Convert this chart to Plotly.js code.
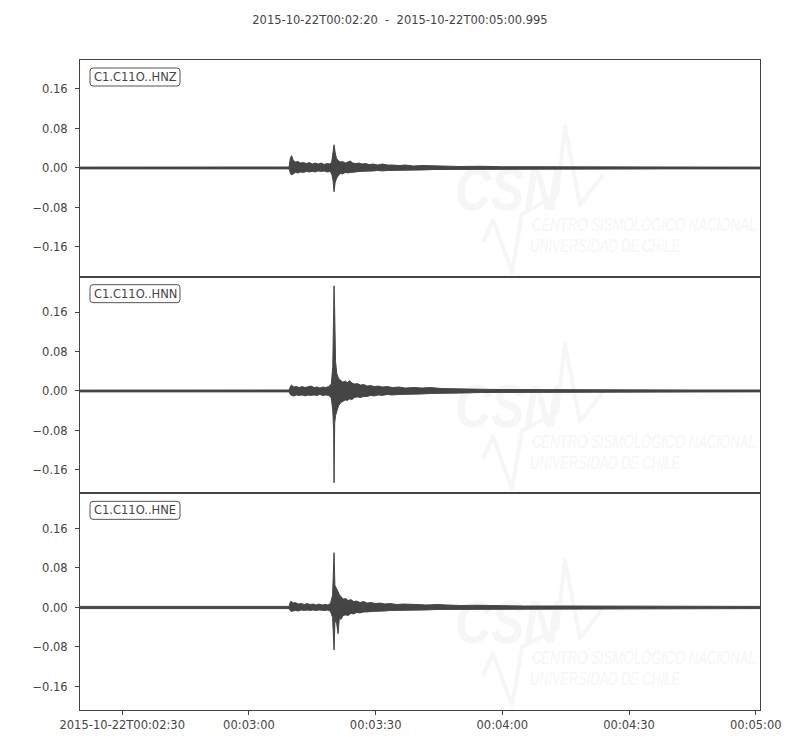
<!DOCTYPE html>
<html>
<head>
<meta charset="utf-8">
<script src="https://cdn.plot.ly/plotly-3.0.1.min.js"></script>
<style>html,body{margin:0;padding:0;background:#fff;}</style>
</head>
<body>
<div id="chart" style="width:800px;height:750px;"></div>
<script>
// ---- Data (seconds after 2015-10-22T00:02:20; upper/lower envelope) ----
const stationLabels = ["C1.C11O..HNZ", "C1.C11O..HNN", "C1.C11O..HNE"];
const plotTitle = "2015-10-22T00:02:20\u00a0\u00a0-\u00a0\u00a02015-10-22T00:05:00.995";

const hnzTime  = [0, 15, 30, 45, 49.5, 49.8, 50.1, 50.5, 51.0, 51.6, 52.2, 52.9, 53.6, 54.3, 55.0, 55.7, 56.4, 57.1, 57.8, 58.5, 59.2, 59.6, 59.9, 60.15, 60.4, 60.7, 61.1, 61.6, 62.2, 62.8, 63.4, 64.0, 64.6, 65.3, 66.0, 66.8, 67.6, 68.5, 69.4, 70.5, 71.6, 72.8, 74, 75.5, 77, 79, 81, 84, 87, 90, 95, 100, 110, 120, 140, 160.995];
const hnzUpper = [0.0018, 0.0022, 0.0018, 0.0020, 0.0020, 0.020, 0.025, 0.015, 0.012, 0.013, 0.010, 0.011, 0.009, 0.011, 0.008, 0.010, 0.008, 0.010, 0.007, 0.009, 0.008, 0.012, 0.030, 0.047, 0.032, 0.020, 0.015, 0.012, 0.013, 0.010, 0.012, 0.014, 0.010, 0.009, 0.010, 0.008, 0.009, 0.007, 0.008, 0.006, 0.008, 0.006, 0.006, 0.005, 0.006, 0.004, 0.005, 0.004, 0.004, 0.003, 0.0035, 0.0025, 0.0025, 0.002, 0.002, 0.0018];
const hnzLower = [-0.0018, -0.0018, -0.0020, -0.0018, -0.0018, -0.010, -0.014, -0.012, -0.009, -0.010, -0.008, -0.009, -0.007, -0.008, -0.007, -0.008, -0.006, -0.007, -0.006, -0.008, -0.007, -0.012, -0.025, -0.048, -0.030, -0.022, -0.016, -0.011, -0.012, -0.009, -0.010, -0.009, -0.008, -0.008, -0.007, -0.007, -0.006, -0.006, -0.006, -0.005, -0.006, -0.005, -0.005, -0.004, -0.004, -0.004, -0.004, -0.003, -0.003, -0.003, -0.0025, -0.0025, -0.002, -0.002, -0.0018, -0.0018];

const hnnTime  = [0, 15, 30, 45, 49.5, 49.86, 50.1, 50.6, 51.2, 51.9, 52.6, 53.3, 54.0, 54.7, 55.4, 56.1, 56.8, 57.5, 58.2, 58.9, 59.5, 59.85, 60.05, 60.15, 60.3, 60.5, 60.8, 61.2, 61.7, 62.2, 62.8, 63.3, 63.8, 64.4, 65.0, 65.7, 66.4, 67.2, 68.0, 68.8, 69.7, 70.6, 71.6, 72.7, 74, 75.5, 77, 79, 81, 83, 85.5, 88, 91, 95, 100, 110, 125, 145, 160.995];
const hnnUpper = [0.0018, 0.002, 0.0018, 0.002, 0.002, 0.010, 0.012, 0.008, 0.009, 0.007, 0.009, 0.007, 0.008, 0.010, 0.007, 0.008, 0.006, 0.008, 0.007, 0.009, 0.014, 0.050, 0.160, 0.213, 0.160, 0.060, 0.035, 0.026, 0.022, 0.018, 0.020, 0.017, 0.021, 0.016, 0.014, 0.015, 0.012, 0.013, 0.010, 0.011, 0.009, 0.010, 0.008, 0.009, 0.007, 0.008, 0.006, 0.007, 0.006, 0.007, 0.005, 0.005, 0.004, 0.0035, 0.003, 0.0025, 0.0022, 0.002, 0.002];
const hnnLower = [-0.0018, -0.0018, -0.002, -0.0018, -0.0018, -0.008, -0.009, -0.010, -0.008, -0.009, -0.008, -0.010, -0.008, -0.009, -0.008, -0.009, -0.007, -0.009, -0.008, -0.009, -0.014, -0.040, -0.080, -0.186, -0.065, -0.050, -0.042, -0.030, -0.024, -0.021, -0.018, -0.019, -0.016, -0.017, -0.013, -0.012, -0.013, -0.011, -0.011, -0.009, -0.010, -0.008, -0.009, -0.007, -0.008, -0.007, -0.007, -0.006, -0.006, -0.005, -0.005, -0.004, -0.004, -0.003, -0.003, -0.0025, -0.002, -0.002, -0.0018];

const hneTime  = [0, 15, 30, 45, 49.5, 49.75, 49.98, 50.4, 51.0, 51.7, 52.4, 53.1, 53.8, 54.5, 55.2, 55.9, 56.6, 57.3, 58.0, 58.7, 59.3, 59.8, 60.0, 60.15, 60.35, 60.7, 61.1, 61.4, 61.8, 62.3, 62.9, 63.5, 64.1, 64.8, 65.5, 66.3, 67.1, 68.0, 68.9, 69.9, 71, 72.2, 73.5, 75, 76.5, 78, 80, 82, 84.5, 87, 90, 94, 98, 105, 115, 130, 145, 160.995];
const hneUpper = [0.0022, 0.0025, 0.002, 0.0025, 0.0022, 0.010, 0.013, 0.009, 0.010, 0.007, 0.008, 0.006, 0.008, 0.006, 0.007, 0.005, 0.007, 0.005, 0.006, 0.005, 0.008, 0.025, 0.080, 0.111, 0.045, 0.040, 0.032, 0.026, 0.022, 0.017, 0.018, 0.014, 0.016, 0.012, 0.013, 0.010, 0.012, 0.009, 0.010, 0.008, 0.009, 0.007, 0.008, 0.006, 0.007, 0.006, 0.006, 0.005, 0.006, 0.005, 0.004, 0.0045, 0.0035, 0.003, 0.003, 0.0028, 0.0025, 0.0022];
const hneLower = [-0.0022, -0.002, -0.0025, -0.0022, -0.0022, -0.006, -0.008, -0.007, -0.006, -0.007, -0.005, -0.006, -0.005, -0.006, -0.005, -0.006, -0.005, -0.005, -0.006, -0.005, -0.008, -0.020, -0.050, -0.086, -0.030, -0.028, -0.053, -0.022, -0.024, -0.016, -0.015, -0.016, -0.012, -0.013, -0.010, -0.011, -0.009, -0.009, -0.008, -0.008, -0.007, -0.007, -0.006, -0.006, -0.005, -0.005, -0.005, -0.005, -0.004, -0.004, -0.004, -0.0035, -0.003, -0.003, -0.0025, -0.0025, -0.0025, -0.0022];

const yTickVals = [-0.16, -0.08, 0, 0.08, 0.16];
const yTickText = ["\u22120.16", "\u22120.08", "0.00", "0.08", "0.16"];
const xTickSec  = [10, 40, 70, 100, 130, 160];
const xTickText = ["2015-10-22T00:02:30", "00:03:00", "00:03:30", "00:04:00", "00:04:30", "00:05:00"];
const startSec = 0, endSec = 160.995;

// ---- helpers ----
const t0 = Date.UTC(2015, 9, 22, 0, 2, 20);
function stamp(s) {
  return new Date(t0 + Math.round(s * 1000)).toISOString().replace('T', ' ').replace('Z', '');
}
function band(times, up, lo, xa, ya) {
  const xs = times.map(stamp);
  return {
    type: 'scatter', mode: 'lines', xaxis: xa, yaxis: ya,
    x: xs.concat(xs.slice().reverse()),
    y: up.concat(lo.slice().reverse()),
    fill: 'toself', fillcolor: '#454545',
    line: {color: '#454545', width: 1},
    hoverinfo: 'skip', showlegend: false
  };
}

const data = [
  band(hnzTime, hnzUpper, hnzLower, 'x', 'y'),
  band(hnnTime, hnnUpper, hnnLower, 'x2', 'y2'),
  band(hneTime, hneUpper, hneLower, 'x3', 'y3')
];

const font = {family: 'DejaVu Sans, sans-serif', size: 11.5, color: '#444'};
const xRange = [stamp(startSec), stamp(endSec)];
function xAxis(anchor, showLabels) {
  return {
    type: 'date', range: xRange, anchor: anchor, domain: [0, 1],
    showgrid: false, zeroline: false,
    showline: true, mirror: true, linecolor: '#444', linewidth: 1,
    ticks: showLabels ? 'outside' : '', ticklen: 4, tickcolor: '#444',
    tickmode: 'array', tickvals: xTickSec.map(stamp), ticktext: xTickText,
    showticklabels: showLabels, tickfont: font
  };
}
function yAxis(anchor, domain, range) {
  return {
    anchor: anchor, domain: domain, range: range,
    showgrid: false, zeroline: false,
    showline: true, mirror: true, linecolor: '#444', linewidth: 1,
    ticks: 'outside', ticklen: 4, tickcolor: '#444',
    tickmode: 'array', tickvals: yTickVals, ticktext: yTickText,
    ticklabelstandoff: 5,
    tickfont: font
  };
}

// faint CSN watermark, drawn beneath the traces
const wmCol = '#f6f6f6';
const wm = '<svg xmlns="http://www.w3.org/2000/svg" width="320" height="160" viewBox="0 0 320 160">' +
  '<g fill="none" stroke="' + wmCol + '" stroke-width="4" stroke-linejoin="round">' +
  '<path d="M33 120 L43 98 L62 150 L72 92 L107 73 L115 5 L130 83 L153 53"/></g>' +
  '<text x="5" y="88" font-family="Liberation Sans" font-weight="bold" font-style="italic" font-size="62" fill="' + wmCol + '" textLength="105" lengthAdjust="spacingAndGlyphs">CSN</text>' +
  '<text x="82" y="109" font-family="Liberation Sans Narrow, Liberation Sans" font-style="italic" font-size="19" fill="' + wmCol + '" textLength="224" lengthAdjust="spacingAndGlyphs">CENTRO SISMOLÓGICO NACIONAL</text>' +
  '<text x="80" y="130" font-family="Liberation Sans Narrow, Liberation Sans" font-style="italic" font-size="19" fill="' + wmCol + '" textLength="150" lengthAdjust="spacingAndGlyphs">UNIVERSIDAD DE CHILE</text>' +
  '</svg>';
const wmSrc = 'data:image/svg+xml;charset=utf-8,' + encodeURIComponent(wm);
const panelTops = [1, 2 / 3, 1 / 3];
const images = panelTops.map(top => ({
  source: wmSrc, xref: 'paper', yref: 'paper',
  x: 370 / 680, y: top - 62 / 650, sizex: 320 / 680, sizey: 160 / 650,
  xanchor: 'left', yanchor: 'top', sizing: 'stretch', layer: 'below'
}));

const annotations = stationLabels.map((lab, i) => ({
  text: lab, xref: 'paper', yref: 'paper', x: 0, y: panelTops[i],
  xanchor: 'center', yanchor: 'middle', xshift: 55, yshift: -17,
  showarrow: false, font: font
}));
const boxPath = 'M13,-8 L97,-8 Q100,-8 100,-11 L100,-23 Q100,-26 97,-26 L13,-26 Q10,-26 10,-23 L10,-11 Q10,-8 13,-8 Z';
const shapes = panelTops.map(top => ({
  type: 'path', xref: 'paper', yref: 'paper',
  xsizemode: 'pixel', ysizemode: 'pixel', xanchor: 0, yanchor: top,
  path: boxPath, fillcolor: '#fff', line: {color: '#555', width: 1}, layer: 'above'
}));

const layout = {
  width: 800, height: 750,
  margin: {l: 80, r: 40, t: 60, b: 40},
  paper_bgcolor: '#fff', plot_bgcolor: 'rgba(0,0,0,0)',
  font: font,
  title: {text: plotTitle, font: font, x: 0.5, xref: 'container', xanchor: 'center', y: 1 - 20 / 750, yref: 'container', yanchor: 'middle'},
  showlegend: false,
  xaxis: xAxis('y', false),
  xaxis2: xAxis('y2', false),
  xaxis3: xAxis('y3', true),
  yaxis: yAxis('x', [2 / 3, 1], [-0.2201, 0.2187]),
  yaxis2: yAxis('x2', [1 / 3, 2 / 3], [-0.2073, 0.2316]),
  yaxis3: yAxis('x3', [0, 1 / 3], [-0.2076, 0.2312]),
  images: images,
  shapes: shapes,
  annotations: annotations
};

Plotly.newPlot('chart', data, layout, {staticPlot: true, displayModeBar: false});
</script>
</body>
</html>
